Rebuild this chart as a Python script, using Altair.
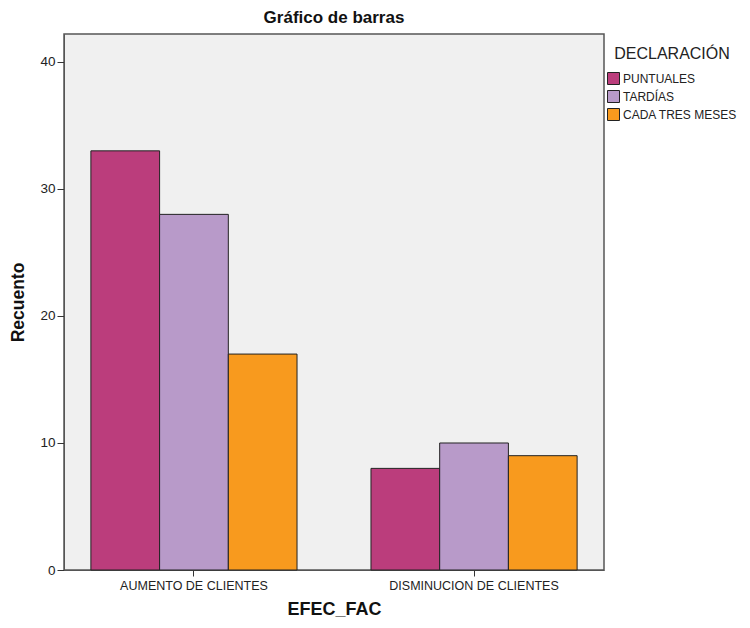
import altair as alt
import pandas as pd

categories = ["AUMENTO DE CLIENTES", "DISMINUCION DE CLIENTES"]
series = ["PUNTUALES", "TARDÍAS", "CADA TRES MESES"]
puntuales = [33, 8]
tardias = [28, 10]
cada_tres = [17, 9]
colors = ["#bb3d7c", "#b89ac9", "#f89a1e"]

rows = []
for i, c in enumerate(categories):
    for s, vals in zip(series, [puntuales, tardias, cada_tres]):
        rows.append({"EFEC_FAC": c, "DECLARACIÓN": s, "Recuento": vals[i]})
df = pd.DataFrame(rows)

FONT = "Liberation Sans"

chart = alt.Chart(df).mark_bar(stroke="#222222", strokeWidth=1).encode(
    x=alt.X("EFEC_FAC:N", sort=categories, title="EFEC_FAC",
            scale=alt.Scale(paddingInner=0.264, paddingOuter=0.096),
            axis=alt.Axis(labelAngle=0, labelFontSize=12.5, labelColor="#222",
                          titleFontSize=18, titleFontWeight="bold", titleColor="#111",
                          titlePadding=9, tickSize=6, tickColor="#333",
                          domainColor="#555", labelPadding=3, grid=False)),
    xOffset=alt.XOffset("DECLARACIÓN:N", sort=series, scale=alt.Scale(paddingInner=0, paddingOuter=0)),
    y=alt.Y("Recuento:Q", title="Recuento",
            scale=alt.Scale(domain=[0, 42.2], nice=False),
            axis=alt.Axis(values=[0, 10, 20, 30, 40], labelFontSize=13.5, labelColor="#222",
                          titleFontSize=17.5, titleFontWeight="bold", titleColor="#111",
                          titlePadding=12, tickSize=7, tickColor="#333",
                          domainColor="#555", labelPadding=2, grid=False)),
    color=alt.Color("DECLARACIÓN:N", sort=series,
                    scale=alt.Scale(domain=series, range=colors),
                    legend=alt.Legend(orient="none", legendX=543, legendY=12,
                                      title="DECLARACIÓN", titleFontSize=16,
                                      titleFontWeight="normal", titleColor="#222",
                                      titleAnchor="middle", titlePadding=10,
                                      labelFontSize=12, labelColor="#222",
                                      symbolType="square", symbolSize=144,
                                      symbolStrokeColor="#222", symbolStrokeWidth=1,
                                      symbolOpacity=1, rowPadding=1, labelOffset=3)),
).properties(
    width=540, height=536,
    title=alt.TitleParams("Gráfico de barras", fontSize=17, fontWeight="bold",
                          color="#111", anchor="middle", offset=7),
    autosize=alt.AutoSizeParams(type="none"),
    padding={"left": 56, "top": 26, "right": 138, "bottom": 50},
).configure(font=FONT).configure_view(
    fill="#f0f0f0", stroke="#555555", strokeWidth=1.5
)

chart.save("out.html", embed_options={"renderer": "svg", "actions": False})
